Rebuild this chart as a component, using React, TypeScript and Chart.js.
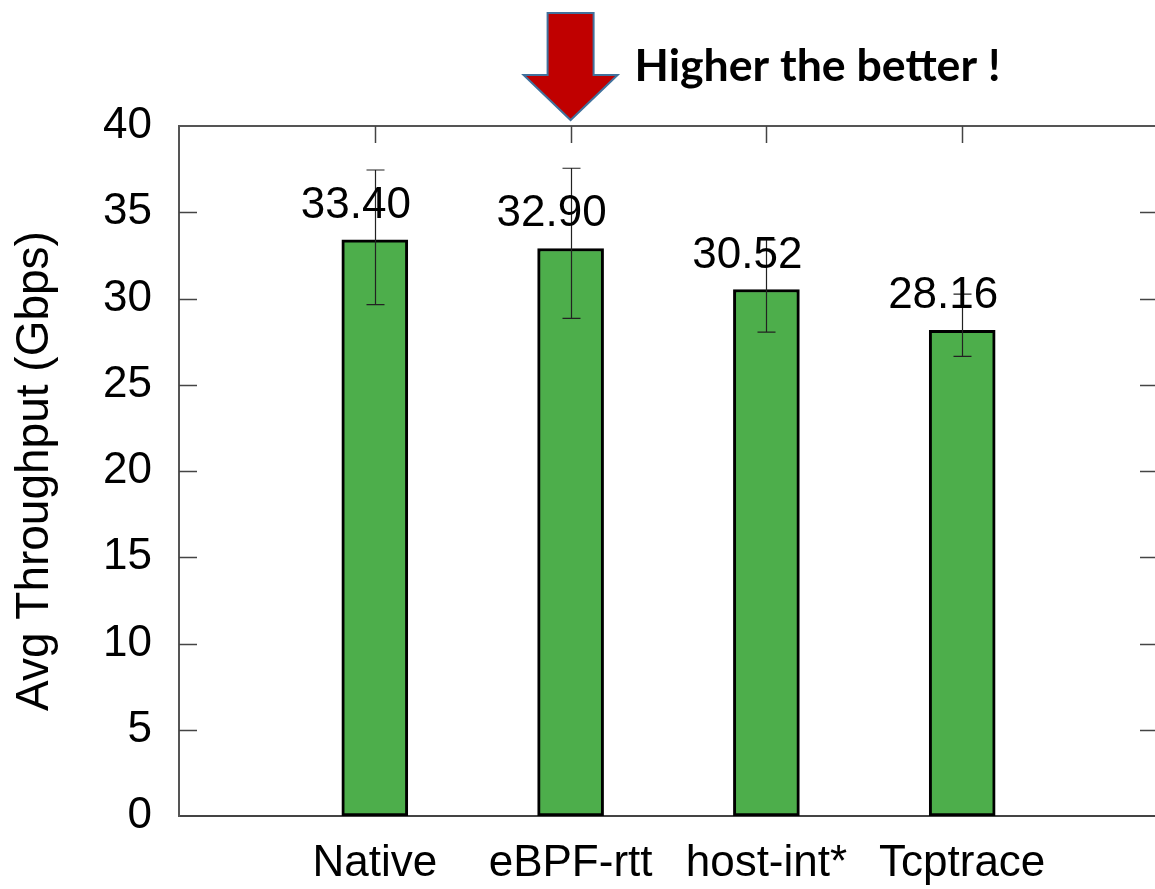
import React, { useEffect, useRef } from "react";
import { Chart, registerables } from "chart.js";

Chart.register(...registerables);

const categories = ["", "Native", "eBPF-rtt", "host-int*", "Tcptrace", ""];
const throughput = [null, 33.4, 32.9, 30.52, 28.16, null];
const errLow = [null, 29.65, 28.85, 28.05, 26.65, null];
const errHigh = [null, 37.45, 37.55, 33.4, 30.25, null];
const yTicks = [0, 5, 10, 15, 20, 25, 30, 35, 40];
const yTitle = "Avg Throughput (Gbps)";
const headline = "Higher the better !";
const arrowIndex = 2;

const FONT = "'Liberation Sans', Arial, Helvetica, sans-serif";

const overlayPlugin = {
  id: "overlay",
  afterDatasetsDraw(chart: any) {
    const ctx = chart.ctx as CanvasRenderingContext2D;
    const area = chart.chartArea;
    const x = chart.scales.x;
    const y = chart.scales.y;
    ctx.save();

    // frame: top and right
    ctx.strokeStyle = "#555";
    ctx.lineWidth = 2;
    ctx.beginPath();
    ctx.moveTo(area.left, area.top);
    ctx.lineTo(area.right, area.top);
    ctx.lineTo(area.right, area.bottom);
    ctx.stroke();

    // y ticks, inward, both sides
    ctx.lineWidth = 1.5;
    ctx.strokeStyle = "#444";
    yTicks.forEach((v) => {
      if (v === 0 || v === 40) return;
      const py = Math.round(y.getPixelForValue(v)) + 0.5;
      ctx.beginPath();
      ctx.moveTo(area.left, py);
      ctx.lineTo(area.left + 18, py);
      ctx.moveTo(area.right - 18, py);
      ctx.lineTo(area.right, py);
      ctx.stroke();
    });

    // top x ticks
    categories.forEach((c, i) => {
      if (!c) return;
      const px = Math.round(x.getPixelForValue(i)) + 0.5;
      ctx.beginPath();
      ctx.moveTo(px, area.top);
      ctx.lineTo(px, area.top + 17);
      ctx.stroke();
    });

    // error bars
    ctx.strokeStyle = "#222";
    ctx.lineWidth = 1.2;
    categories.forEach((c, i) => {
      const lo = errLow[i];
      const hi = errHigh[i];
      if (lo == null || hi == null) return;
      const px = Math.round(x.getPixelForValue(i)) + 0.5;
      const pl = y.getPixelForValue(lo);
      const ph = y.getPixelForValue(hi);
      ctx.beginPath();
      ctx.moveTo(px, pl);
      ctx.lineTo(px, ph);
      ctx.moveTo(px - 9, pl);
      ctx.lineTo(px + 9, pl);
      ctx.moveTo(px - 9, ph);
      ctx.lineTo(px + 9, ph);
      ctx.stroke();
    });

    // value labels
    ctx.fillStyle = "#000";
    ctx.font = `44px ${FONT}`;
    ctx.textAlign = "center";
    ctx.textBaseline = "alphabetic";
    throughput.forEach((v, i) => {
      if (v == null) return;
      const px = x.getPixelForValue(i) - 19;
      const py = y.getPixelForValue(v) - 22;
      ctx.fillText(v.toFixed(2), px, py);
    });

    // arrow
    const ax = x.getPixelForValue(arrowIndex);
    const ay = area.top - 6;
    ctx.beginPath();
    ctx.moveTo(ax - 23, ay - 107);
    ctx.lineTo(ax + 23, ay - 107);
    ctx.lineTo(ax + 23, ay - 45);
    ctx.lineTo(ax + 47, ay - 45);
    ctx.lineTo(ax, ay);
    ctx.lineTo(ax - 47, ay - 45);
    ctx.lineTo(ax - 23, ay - 45);
    ctx.closePath();
    ctx.fillStyle = "#C00000";
    ctx.fill();
    ctx.strokeStyle = "#41719C";
    ctx.lineWidth = 2;
    ctx.stroke();

    // headline
    ctx.fillStyle = "#000";
    ctx.textAlign = "left";
    let size = 44;
    ctx.font = `bold ${size}px Lato, 'Open Sans', sans-serif`;
    const w = ctx.measureText(headline).width;
    size = size * 366 / w;
    ctx.font = `bold ${size}px Lato, 'Open Sans', sans-serif`;
    ctx.fillText(headline, ax + 64, ay - 39);

    ctx.restore();
  },
};

export default function App() {
  const ref = useRef<HTMLCanvasElement | null>(null);
  useEffect(() => {
    if (!ref.current) return;
    const chart = new Chart(ref.current, {
      type: "bar",
      data: {
        labels: categories,
        datasets: [
          {
            data: throughput as any,
            backgroundColor: "#4DAE4B",
            borderColor: "#000",
            borderWidth: 3,
            barThickness: 66,
            borderSkipped: false,
          },
        ],
      },
      options: {
        animation: false,
        responsive: false,
        maintainAspectRatio: false,
        layout: { padding: { top: 126, left: 0, right: 0, bottom: 0 } },
        plugins: { legend: { display: false }, tooltip: { enabled: false }, title: { display: false } },
        scales: {
          x: {
            type: "category",
            offset: false,
            grid: { display: false, drawTicks: false },
            border: { display: true, color: "#444", width: 2 },
            ticks: {
              autoSkip: false,
              maxRotation: 0,
              minRotation: 0,
              padding: 21,
              color: "#000",
              font: { family: FONT, size: 44 },
            },
            afterFit: (s: any) => {
              s.height = 73;
            },
          },
          y: {
            min: 0,
            max: 40,
            grid: { display: false, drawTicks: false },
            border: { display: true, color: "#555", width: 2 },
            ticks: {
              stepSize: 5,
              padding: 27,
              color: "#000",
              font: { family: FONT, size: 44 },
            },
            title: {
              display: true,
              text: yTitle,
              color: "#000",
              font: { family: FONT, size: 46 },
              padding: { top: 8, bottom: 0 },
            },
            afterFit: (s: any) => {
              s.width = 179;
            },
          },
        },
      },
      plugins: [overlayPlugin],
    });
    return () => chart.destroy();
  }, []);
  return (
    <div style={{ position: "absolute", left: 0, top: 0, width: 1155, height: 889, overflow: "hidden", background: "#fff" }}>
      <canvas ref={ref} width={1179} height={889} style={{ display: "block" }} />
    </div>
  );
}
